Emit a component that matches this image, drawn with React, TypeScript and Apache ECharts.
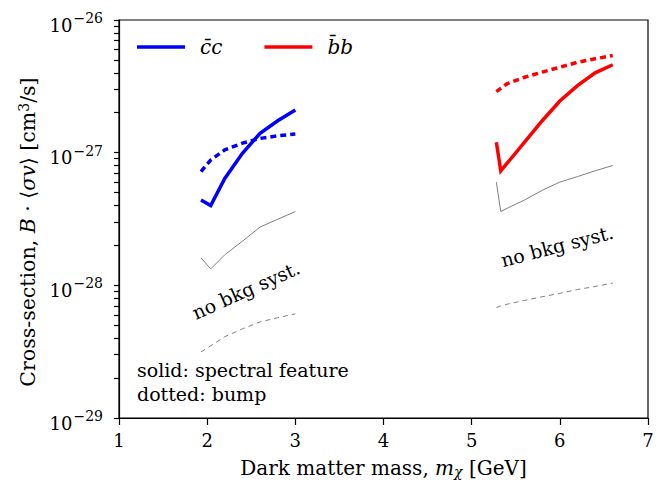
import React, { useEffect, useRef } from "react";
import * as echarts from "echarts";

const FONT = "DejaVu Serif";

// c c-bar channel
const ccMass = [1.93, 2.04, 2.2, 2.4, 2.6, 2.8, 3.0];
const ccSpectral = [4.4e-28, 4.0e-28, 6.4e-28, 9.9e-28, 1.4e-27, 1.74e-27, 2.1e-27];
const ccBump = [7.2e-28, 8.8e-28, 1.05e-27, 1.18e-27, 1.28e-27, 1.34e-27, 1.38e-27];
const ccSpectralNoSyst = [1.61e-28, 1.33e-28, 1.7e-28, 2.15e-28, 2.75e-28, 3.15e-28, 3.6e-28];
const ccBumpNoSyst = [3.15e-29, 3.5e-29, 4.1e-29, 4.7e-29, 5.3e-29, 5.7e-29, 6.1e-29];

// b b-bar channel
const bbMass = [5.28, 5.33, 5.4, 5.6, 5.8, 6.0, 6.2, 6.4, 6.6];
const bbSpectral = [1.2e-27, 7.3e-28, 8.3e-28, 1.2e-27, 1.74e-27, 2.45e-27, 3.2e-27, 4.0e-27, 4.6e-27];
const bbBump = [2.88e-27, 3.05e-27, 3.3e-27, 3.7e-27, 4.05e-27, 4.4e-27, 4.8e-27, 5.1e-27, 5.4e-27];
const bbSpectralNoSyst = [6.0e-28, 3.6e-28, 3.8e-28, 4.4e-28, 5.2e-28, 6.0e-28, 6.6e-28, 7.3e-28, 8.0e-28];
const bbBumpNoSyst = [6.8e-29, 7.0e-29, 7.2e-29, 7.7e-29, 8.2e-29, 8.7e-29, 9.3e-29, 9.8e-29, 1.04e-28];

// y axis: decades (log10 of the values) and minor-tick mantissas
const yMinExp = -29;
const yMaxExp = -26;
const yDecadeLabels = [-29, -28, -27, -26];
const yMinorMantissas = [1, 2, 3, 4, 5, 6, 7, 8, 9];
const yTicksLog = [-29, -28, -27]
  .flatMap((e) => yMinorMantissas.map((m) => e + Math.log10(m)))
  .concat([-26]);

const CC = "c\u0304c";
const BB = "b\u0304b";

const pairs = (xs: number[], ys: number[]) => xs.map((x, i) => [x, ys[i]]);

export default function App() {
  const ref = useRef<HTMLDivElement>(null);
  useEffect(() => {
    if (!ref.current) return;
    const chart = echarts.init(ref.current, undefined, { renderer: "svg" });
    const axisLineStyle = { color: "#000", width: 1.2 };
    const mk = (name: string, xs: number[], ys: number[], color: string, width: number, type: any) => ({
      name,
      type: "line",
      symbol: "none",
      data: pairs(xs, ys),
      yAxisIndex: 1,
      lineStyle: { color, width, type, cap: "butt", join: "miter" },
      itemStyle: { color },
      z: width > 2 ? 3 : 2,
    });
    chart.setOption({
      animation: false,
      grid: {
        left: 119,
        right: 24,
        top: 20,
        bottom: 67,
        show: true,
        borderColor: "#000",
        borderWidth: 1.2,
      },
      legend: {
        data: [CC, BB],
        left: 132,
        top: 32,
        itemWidth: 48,
        itemHeight: 3.5,
        itemGap: 42,
        icon: "rect",
        textStyle: {
          fontFamily: FONT,
          fontStyle: "italic",
          fontSize: 20,
          color: "#000",
          padding: [0, 0, 0, 10],
        },
      },
      xAxis: {
        type: "value",
        min: 1,
        max: 7,
        interval: 1,
        axisLine: { show: true, onZero: false, lineStyle: axisLineStyle },
        axisTick: { show: true, length: 7, lineStyle: axisLineStyle },
        axisLabel: { margin: 13, color: "#000", fontSize: 18, fontFamily: FONT },
        splitLine: { show: false },
        name: "Dark matter mass, {i|m}{sub|\u03c7} [GeV]",
        nameLocation: "middle",
        nameGap: 39,
        nameTextStyle: {
          color: "#000",
          fontSize: 20,
          fontFamily: FONT,
          rich: {
            i: { fontSize: 20, fontFamily: FONT, fontStyle: "italic", color: "#000" },
            sub: { fontSize: 14, fontFamily: FONT, fontStyle: "italic", color: "#000", padding: [8, 0, 0, 0] },
          },
        },
      },
      yAxis: [
        {
          // visible axis: ticks and labels in log10 units
          type: "value",
          min: yMinExp,
          max: yMaxExp,
          position: "left",
          axisLine: { show: true, onZero: false, lineStyle: axisLineStyle },
          axisTick: { show: true, length: 5, lineStyle: axisLineStyle, customValues: yTicksLog },
          axisLabel: {
            margin: 16,
            color: "#000",
            customValues: yDecadeLabels,
            formatter: (v: number) => `{b|10}{s|\u2212${Math.abs(Math.round(v))}}`,
            rich: {
              b: { fontSize: 18, fontFamily: FONT, color: "#000", padding: [10, 0, 0, 0] },
              s: { fontSize: 14, fontFamily: FONT, color: "#000", padding: [0, 0, 4, 1] },
            },
          },
          splitLine: { show: false },
          name: "Cross-section, {i|B} \u00b7 \u27e8{i|\u03c3v}\u27e9 [cm{sup|3}/s]",
          nameLocation: "middle",
          nameGap: 78,
          nameTextStyle: {
            color: "#000",
            fontSize: 20.5,
            fontFamily: FONT,
            padding: [0, 26, 0, 0],
            rich: {
              i: { fontSize: 20.5, fontFamily: FONT, fontStyle: "italic", color: "#000" },
              sup: { fontSize: 14, fontFamily: FONT, color: "#000", padding: [0, 0, 9, 0] },
            },
          },
        },
        {
          // data axis (log scale), hidden
          type: "log",
          logBase: 10,
          min: 1e-29,
          max: 1e-26,
          show: false,
          axisLine: { show: false },
          axisTick: { show: false, customValues: [1e-29, 1e-26] },
          axisLabel: { show: false, customValues: [1e-29, 1e-26] },
          splitLine: { show: false },
        },
      ],
      series: [
        mk("ccBumpNoSyst", ccMass, ccBumpNoSyst, "#808080", 1, [5, 4]),
        mk("ccSpectralNoSyst", ccMass, ccSpectralNoSyst, "#808080", 1, "solid"),
        mk("ccBump", ccMass, ccBump, "#0000ff", 3.5, [6, 4]),
        mk(CC, ccMass, ccSpectral, "#0000ff", 3.5, "solid"),
        mk("bbBumpNoSyst", bbMass, bbBumpNoSyst, "#808080", 1, [5, 4]),
        mk("bbSpectralNoSyst", bbMass, bbSpectralNoSyst, "#808080", 1, "solid"),
        mk("bbBump", bbMass, bbBump, "#ff0000", 3.5, [6, 4]),
        mk(BB, bbMass, bbSpectral, "#ff0000", 3.5, "solid"),
      ],
      graphic: [
        {
          type: "text",
          x: 246,
          y: 290,
          rotation: (24 * Math.PI) / 180,
          style: {
            text: "no bkg syst.",
            fontFamily: FONT,
            fontSize: 19,
            fill: "#000",
            align: "center",
            verticalAlign: "middle",
          },
        },
        {
          type: "text",
          x: 557,
          y: 246,
          rotation: (14.5 * Math.PI) / 180,
          style: {
            text: "no bkg syst.",
            fontFamily: FONT,
            fontSize: 19,
            fill: "#000",
            align: "center",
            verticalAlign: "middle",
          },
        },
        {
          type: "text",
          left: 137,
          top: 358,
          style: {
            text: "solid: spectral feature\ndotted: bump",
            fontFamily: FONT,
            fontSize: 19,
            lineHeight: 24,
            fill: "#000",
          },
        },
      ],
    });
    return () => chart.dispose();
  }, []);
  return <div ref={ref} style={{ width: 672, height: 485, position: "absolute", left: 0, top: 0 }} />;
}
